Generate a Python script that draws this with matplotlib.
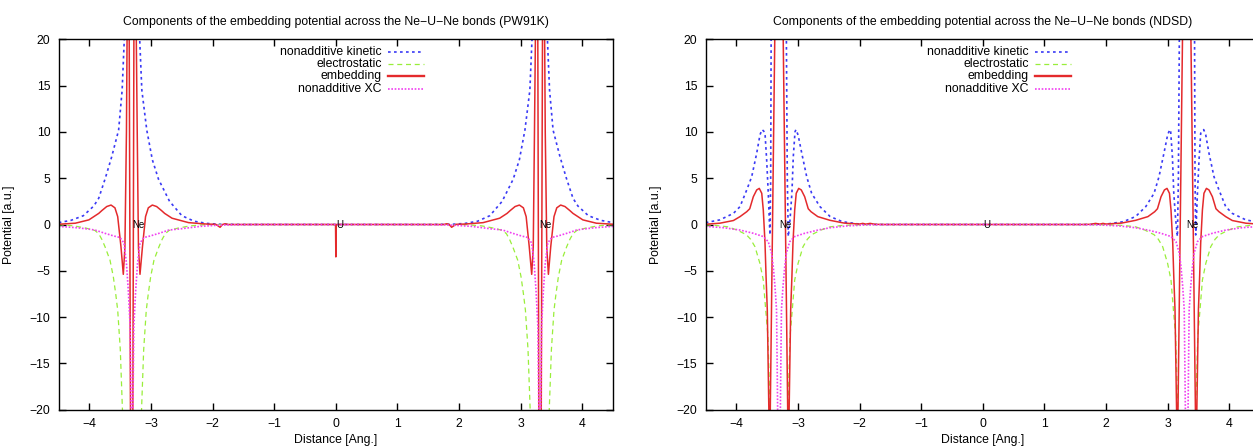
import matplotlib
matplotlib.use("Agg")
import matplotlib.pyplot as plt

plt.rcParams['font.family'] = ['Liberation Sans', 'DejaVu Sans']

# ---- PW91K panel (left) ----
pw_kin_x = [-4.5, -4.3, -4.1, -3.93, -3.85, -3.743, -3.64, -3.527, -3.47, -3.435, -3.42,
            -3.2, -3.185, -3.15, -3.07, -2.98, -2.88, -2.7, -2.5, -2.3, -2.1, -1.9, -1.5,
            1.5, 1.9, 2.1, 2.3, 2.5, 2.7, 2.88, 2.98, 3.07, 3.15, 3.185, 3.2,
            3.42, 3.435, 3.47, 3.527, 3.64, 3.743, 3.85, 3.93, 4.1, 4.3, 4.5]
pw_kin_y = [0.2, 0.45, 0.95, 2.0, 2.84, 5.0, 7.3, 10.2, 14.5, 20, 25,
            25, 20, 14.5, 10.2, 7.0, 4.9, 2.5, 0.95, 0.35, 0.12, 0.03, 0.0,
            0.0, 0.03, 0.12, 0.35, 0.95, 2.5, 4.9, 7.0, 10.2, 14.5, 20, 25,
            25, 20, 14.5, 10.2, 7.3, 5.0, 2.84, 2.0, 0.95, 0.45, 0.2]

pw_ele_x = [-4.5, -4.25, -4.05, -3.91, -3.85, -3.8, -3.748, -3.667, -3.613, -3.575, -3.542, -3.5, -3.465, -3.45,
            -3.17, -3.155, -3.12, -3.078, -3.045, -3.007, -2.953, -2.872, -2.82, -2.77, -2.71, -2.57, -2.37, -2.12, -1.8,
            1.8, 2.12, 2.37, 2.57, 2.71, 2.77, 2.82, 2.872, 2.953, 3.007, 3.045, 3.078, 3.12, 3.155, 3.17,
            3.45, 3.465, 3.5, 3.542, 3.575, 3.613, 3.667, 3.748, 3.8, 3.85, 3.91, 4.05, 4.25, 4.5]
pw_ele_y = [-0.02, -0.15, -0.4, -0.65, -1.0, -1.6, -2.4, -3.85, -5.65, -7.45, -9.25, -13.5, -20, -25,
            -25, -20, -13.5, -9.25, -7.45, -5.65, -3.85, -2.4, -1.6, -1.0, -0.65, -0.4, -0.15, -0.02, 0.0,
            0.0, -0.02, -0.15, -0.4, -0.65, -1.0, -1.6, -2.4, -3.85, -5.65, -7.45, -9.25, -13.5, -20, -25,
            -25, -20, -13.5, -9.25, -7.45, -5.65, -3.85, -2.4, -1.6, -1.0, -0.65, -0.4, -0.15, -0.02]

pw_emb_x = [-4.5, -4.23, -4.01, -3.85, -3.8, -3.72, -3.65, -3.587, -3.542, -3.489, -3.451, -3.425, -3.4,
            -3.38, -3.36, -3.33, -3.3, -3.275, -3.255, -3.225, -3.205, -3.18, -3.14, -3.09, -3.045, -2.98,
            -2.91, -2.83, -2.78, -2.66, -2.39, -2.1, -1.95, -1.88, -1.84, -1.8, -1.75,
            -0.005, 0.0, 0.005,
            1.75, 1.8, 1.84, 1.88, 1.95, 2.1, 2.39, 2.66, 2.78, 2.83, 2.91, 2.98, 3.045, 3.09, 3.14, 3.18,
            3.205, 3.225, 3.255, 3.275, 3.3, 3.33, 3.36, 3.38, 3.4, 3.425, 3.451, 3.489, 3.542, 3.587, 3.65,
            3.72, 3.8, 3.85, 4.01, 4.23, 4.5]
pw_emb_y = [0.03, 0.14, 0.5, 1.2, 1.5, 1.94, 2.1, 1.8, 0.85, -2.4, -5.38, -2.5, 10,
            30, 30, -30, -30, 30, 30, 10, -2.5, -5.38, -2.4, 0.85, 1.8, 2.1,
            1.94, 1.5, 1.2, 0.68, 0.2, 0.05, 0.02, -0.3, 0.0, 0.08, 0.0,
            0.0, -3.5, 0.0,
            0.0, 0.08, 0.0, -0.3, 0.02, 0.05, 0.2, 0.68, 1.2, 1.5, 1.94, 2.1, 1.8, 0.85, -2.4, -5.38,
            -2.5, 10, 30, 30, -30, -30, 30, 30, 10, -2.5, -5.38, -2.4, 0.85, 1.8, 2.1,
            1.94, 1.5, 1.2, 0.5, 0.14, 0.03]

pw_xc_x = [-4.5, -4.2, -4.01, -3.91, -3.75, -3.6, -3.505, -3.44, -3.4, -3.37, -3.34, -3.325, -3.32,
           -3.3, -3.295, -3.28, -3.25, -3.22, -3.18, -3.115, -3.02, -2.87, -2.71, -2.5, -2.2, -1.9, -1.6, -1.2,
           1.2, 1.6, 1.9, 2.2, 2.5, 2.71, 2.87, 3.02, 3.115, 3.18, 3.22, 3.25, 3.28, 3.295,
           3.3, 3.32, 3.325, 3.34, 3.37, 3.4, 3.44, 3.505, 3.6, 3.75, 3.91, 4.01, 4.2, 4.5]
pw_xc_y = [-0.2, -0.35, -0.5, -0.6, -0.95, -1.25, -1.4, -2.0, -4.2, -7.1, -11, -20, -25,
           -25, -20, -11, -7.1, -4.2, -2.0, -1.4, -1.25, -0.95, -0.6, -0.45, -0.2, -0.07, -0.02, 0.0,
           0.0, -0.02, -0.07, -0.2, -0.45, -0.6, -0.95, -1.25, -1.4, -2.0, -4.2, -7.1, -11, -20,
           -25, -25, -20, -11, -7.1, -4.2, -2.0, -1.4, -1.25, -0.95, -0.6, -0.5, -0.35, -0.2]

# ---- NDSD panel (right) ----
nd_kin_x = [-4.5, -4.27, -4.05, -3.943, -3.834, -3.753, -3.672, -3.619, -3.586, -3.56, -3.537, -3.51,
            -3.484, -3.467, -3.456, -3.445, -3.435,
            -3.195, -3.175, -3.159, -3.131, -3.1, -3.078, -3.05, -3.035, -3.0, -2.94, -2.86, -2.78,
            -2.645, -2.48, -2.28, -2.01, -1.7,
            1.7, 2.01, 2.28, 2.48, 2.645, 2.78, 2.86, 2.94, 3.0, 3.035, 3.05, 3.078, 3.1, 3.131,
            3.159, 3.175, 3.195,
            3.435, 3.445, 3.456, 3.467, 3.484, 3.51, 3.537, 3.56, 3.586, 3.619, 3.672, 3.753, 3.834,
            3.943, 4.05, 4.27, 4.5]
nd_kin_y = [0.2, 0.5, 1.2, 1.93, 3.73, 5.16, 7.69, 9.67, 10.25, 10.1, 9.85, 6.96,
            3.37, 0.49, -1.13, 5.0, 25,
            25, 5.0, -1.3, 0.5, 3.4, 7.3, 10.0, 10.25, 9.67, 7.69, 5.16, 3.37,
            1.93, 0.86, 0.3, 0.05, 0.0,
            0.0, 0.05, 0.3, 0.86, 1.93, 3.37, 5.16, 7.69, 9.67, 10.25, 10.0, 7.3, 3.4, 0.5,
            -1.3, 5.0, 25,
            25, 5.0, -1.13, 0.49, 3.37, 6.96, 9.85, 10.1, 10.25, 9.67, 7.69, 5.16, 3.73,
            1.93, 1.2, 0.5, 0.2]

nd_ele_x = [-4.5, -4.34, -4.14, -3.99, -3.84, -3.77, -3.7, -3.62, -3.565, -3.526, -3.49, -3.455, -3.445,
            -3.175, -3.165, -3.13, -3.094, -3.055, -3.0, -2.92, -2.85, -2.78, -2.63, -2.48, -2.28, -2.0, -1.7,
            1.7, 2.0, 2.28, 2.48, 2.63, 2.78, 2.85, 2.92, 3.0, 3.055, 3.094, 3.13, 3.165, 3.175,
            3.445, 3.455, 3.49, 3.526, 3.565, 3.62, 3.7, 3.77, 3.84, 3.99, 4.14, 4.34, 4.5]
nd_ele_y = [-0.04, -0.1, -0.25, -0.6, -1.1, -1.6, -2.4, -4.2, -6.0, -9.2, -12.0, -20, -25,
            -25, -20, -12.0, -9.2, -6.0, -4.2, -2.4, -1.6, -1.1, -0.6, -0.25, -0.1, -0.03, 0.0,
            0.0, -0.03, -0.1, -0.25, -0.6, -1.1, -1.6, -2.4, -4.2, -6.0, -9.2, -12.0, -20, -25,
            -25, -20, -12.0, -9.2, -6.0, -4.2, -2.4, -1.6, -1.1, -0.6, -0.25, -0.1, -0.04]

nd_emb_x = [-4.5, -4.27, -4.05, -3.943, -3.834, -3.785, -3.727, -3.672, -3.63, -3.59, -3.565, -3.537,
            -3.52, -3.5, -3.47, -3.455, -3.375, -3.245, -3.165, -3.15, -3.12, -3.1, -3.083, -3.055,
            -3.03, -2.99, -2.948, -2.893, -2.835, -2.79, -2.68, -2.48, -2.25, -2.0, -1.95, -1.9,
            -1.83, -1.75, -1.6,
            1.6, 1.75, 1.83, 1.9, 1.95, 2.0, 2.25, 2.48, 2.68, 2.79, 2.835, 2.893, 2.948, 2.99,
            3.03, 3.055, 3.083, 3.1, 3.12, 3.15, 3.165, 3.245, 3.375, 3.455, 3.47, 3.5, 3.52,
            3.537, 3.565, 3.59, 3.63, 3.672, 3.727, 3.785, 3.834, 3.943, 4.05, 4.27, 4.5]
nd_emb_y = [0.03, 0.14, 0.43, 0.85, 1.38, 1.7, 3.0, 3.73, 3.9, 3.37, 1.57, -2.0,
            -5.6, -9.2, -22, -22, 22, 22, -22, -22, -9.2, -5.6, -2.0, 1.57,
            3.37, 3.9, 3.73, 3.0, 1.7, 1.38, 0.85, 0.45, 0.15, 0.05, 0.12, 0.04,
            0.12, 0.02, 0.0,
            0.0, 0.02, 0.12, 0.04, 0.12, 0.05, 0.15, 0.45, 0.85, 1.38, 1.7, 3.0, 3.73, 3.9,
            3.37, 1.57, -2.0, -5.6, -9.2, -22, -22, 22, 22, -22, -22, -9.2, -5.6,
            -2.0, 1.57, 3.37, 3.9, 3.73, 3.0, 1.7, 1.38, 0.85, 0.43, 0.14, 0.03]

nd_xc_x = [-4.5, -4.2, -4.05, -3.943, -3.727, -3.565, -3.484, -3.43, -3.403, -3.375, -3.35, -3.34,
           -3.332, -3.33, -3.29, -3.288, -3.28, -3.27, -3.245, -3.217, -3.19, -3.136, -3.055, -2.893,
           -2.677, -2.48, -2.2, -1.9, -1.5,
           1.5, 1.9, 2.2, 2.48, 2.677, 2.893, 3.055, 3.136, 3.19, 3.217, 3.245, 3.27, 3.28, 3.288,
           3.29, 3.33, 3.332, 3.34, 3.35, 3.375, 3.403, 3.43, 3.484, 3.565, 3.727, 3.943, 4.05, 4.2, 4.5]
nd_xc_y = [-0.2, -0.35, -0.5, -0.6, -0.95, -1.3, -1.86, -3.1, -4.55, -6.7, -9.2, -15,
           -20, -25, -25, -20, -15, -9.2, -6.7, -4.55, -3.1, -1.86, -1.3, -0.95,
           -0.6, -0.35, -0.15, -0.05, 0.0,
           0.0, -0.05, -0.15, -0.35, -0.6, -0.95, -1.3, -1.86, -3.1, -4.55, -6.7, -9.2, -15, -20,
           -25, -25, -20, -15, -9.2, -6.7, -4.55, -3.1, -1.86, -1.3, -0.95, -0.6, -0.5, -0.35, -0.2]

series_names = ['nonadditive kinetic', 'electrostatic', 'embedding', 'nonadditive XC']
atom_x = [-3.3, 0.0, 3.3]
atom_names = ['Ne', 'U', 'Ne']
titles = ['Components of the embedding potential across the Ne\u2212U\u2212Ne bonds (PW91K)',
          'Components of the embedding potential across the Ne\u2212U\u2212Ne bonds (NDSD)']

styles = [dict(color='#3a3af5', lw=1.2, ls=(0, (1.6, 2.0))),
          dict(color='#99ee3a', lw=0.9, ls=(0, (4, 3))),
          dict(color='#e42a2c', lw=1.1, ls='-'),
          dict(color='#f040f0', lw=1.2, ls=(0, (1, 1)))]

panels = [(titles[0], [(pw_kin_x, pw_kin_y), (pw_ele_x, pw_ele_y), (pw_emb_x, pw_emb_y), (pw_xc_x, pw_xc_y)]),
          (titles[1], [(nd_kin_x, nd_kin_y), (nd_ele_x, nd_ele_y), (nd_emb_x, nd_emb_y), (nd_xc_x, nd_xc_y)])]

W, H = 1253, 447
fig = plt.figure(figsize=(W / 100, H / 100), dpi=100)
lefts = [58.7, 705.7]
ax_w, ax_h, ax_bottom = 554.3, 370.4, 447 - 409.7
fs = 8.8

for left, (title, data) in zip(lefts, panels):
    ax = fig.add_axes([left / W, ax_bottom / H, ax_w / W, ax_h / H])
    for (xs, ys), st in zip(data, styles):
        ax.plot(xs, ys, color=st['color'], lw=st['lw'], ls=st['ls'])
    ax.set_xlim(-4.5, 4.5)
    ax.set_ylim(-20, 20)
    ax.set_xticks(range(-4, 5))
    ax.set_yticks(range(-20, 21, 5))
    ax.tick_params(direction='in', top=True, right=True, length=5, width=1,
                   labelsize=fs, pad=6)
    for sp in ax.spines.values():
        sp.set_linewidth(1.0)
    ax.set_title(title, fontsize=fs, pad=10)
    ax.set_xlabel('Distance [Ang.]', fontsize=fs)
    ax.set_ylabel('Potential [a.u.]', fontsize=fs)
    ax.xaxis.set_label_coords(0.5, -0.066)
    ax.yaxis.set_label_coords(-0.079, 0.5)

    for x, name in zip(atom_x, atom_names):
        ax.text(x, 0, name, ha='left', va='center', fontsize=7)

    # gnuplot-style key: right-aligned text, sample line to the right
    key_y = [0.9665, 0.9333, 0.9017, 0.8666]
    for name, st, ky in zip(series_names, styles, key_y):
        ax.text(0.5827, ky, name, transform=ax.transAxes, ha='right', va='center', fontsize=fs)
        ax.plot([0.594, 0.659], [ky, ky], transform=ax.transAxes,
                color=st['color'], lw=st['lw'] + (0.6 if st['ls'] == '-' else 0), ls=st['ls'])

fig.savefig('out.png', dpi=100)
